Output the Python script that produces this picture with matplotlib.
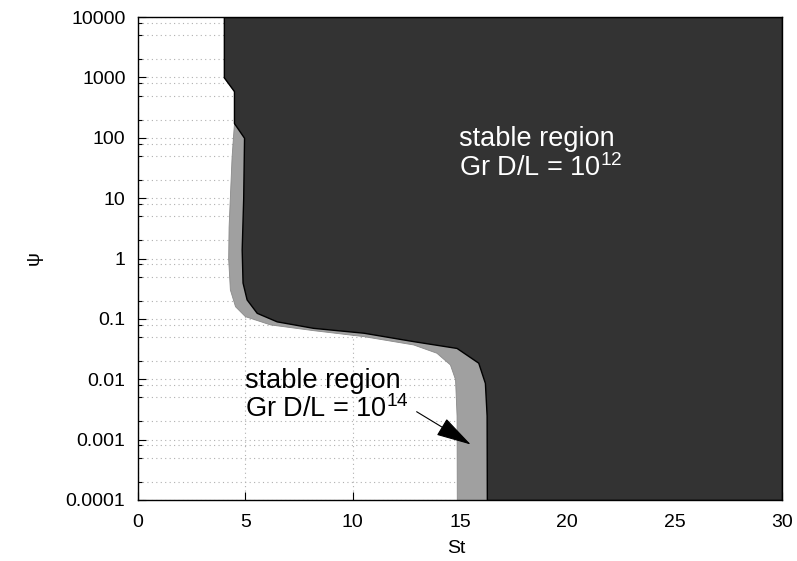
import matplotlib as mpl
mpl.rcParams['font.family'] = ['Liberation Sans', 'DejaVu Sans']
mpl.rcParams['mathtext.fontset'] = 'custom'
mpl.rcParams['mathtext.rm'] = 'Liberation Sans'
mpl.rcParams['mathtext.it'] = 'Liberation Sans'
import matplotlib.pyplot as plt
from matplotlib.ticker import LogLocator, NullFormatter, FixedLocator

# stability boundary for Gr D/L = 1e12 (dark region, stable to the right)
psi_12 = [1e4, 1000, 593, 175, 100, 10, 1.41, 0.4, 0.21, 0.126, 0.091, 0.071,
          0.059, 0.0428, 0.033, 0.0188, 0.0087, 0.0025, 1e-4]
st_12 = [4.0, 4.0, 4.47, 4.47, 4.94, 4.9, 4.83, 4.87, 5.06, 5.53, 6.46, 8.16,
         10.5, 12.82, 14.84, 15.85, 16.16, 16.24, 16.25]

# stability boundary for Gr D/L = 1e14 (light region)
psi_14 = [1e4, 1000, 593, 175, 49, 3.35, 1.0, 0.307, 0.162, 0.111, 0.081, 0.065,
          0.0518, 0.0377, 0.0275, 0.0176, 0.01, 0.0025, 1e-4]
st_14 = [4.0, 4.0, 4.47, 4.47, 4.36, 4.22, 4.2, 4.28, 4.52, 4.98, 6.15, 8.16,
         10.5, 12.82, 13.9, 14.53, 14.77, 14.84, 14.85]

x_ticks = [0, 5, 10, 15, 20, 25, 30]
y_ticks = [1e-4, 1e-3, 1e-2, 1e-1, 1, 10, 100, 1000, 1e4]
y_labels = ['0.0001', '0.001', '0.01', '0.1', '1', '10', '100', '1000', '10000']

fig = plt.figure(figsize=(7.97, 5.61), dpi=100)
ax = fig.add_axes([138/797, 1-500/561, 644/797, 483/561])
ax.set_yscale('log')
ax.set_xlim(0, 30)
ax.set_ylim(1e-4, 1e4)

ax.set_axisbelow(True)
ax.fill_betweenx(psi_14, st_14, 30, facecolor='#a0a0a0', edgecolor='#8a8a8a', lw=0.6, zorder=1)
ax.fill_betweenx(psi_12, st_12, 30, facecolor='#333333', edgecolor='black', lw=1.0, zorder=1.5)

ax.set_xticks(x_ticks)
ax.set_xticklabels([str(v) for v in x_ticks])
ax.yaxis.set_major_locator(FixedLocator(y_ticks))
ax.set_yticklabels(y_labels)
ax.yaxis.set_minor_locator(LogLocator(base=10, subs=[2, 5, 8]))
ax.yaxis.set_minor_formatter(NullFormatter())
ax.tick_params(which='major', direction='in', length=6, width=0.8, labelsize=14, pad=9)
ax.tick_params(which='minor', direction='in', length=3, width=0.8)
ax.tick_params(axis='x', pad=10)
ax.grid(True, which='both', axis='y', ls=(0, (1, 3)), color='#b0b0b0', lw=0.8)
ax.grid(True, which='major', axis='x', ls=(0, (1, 3)), color='#b0b0b0', lw=0.8)
for s in ax.spines.values():
    s.set_linewidth(1.0)
    s.set_zorder(3)

ax.set_xlabel('St', fontsize=14)
ax.xaxis.set_label_coords(0.494, -0.082)
ax.set_ylabel('ψ', fontsize=14)
ax.yaxis.set_label_coords(-0.148, 0.5)

ax.text(14.95, 71.8, 'stable region', color='white', fontsize=19.5, va='baseline')
ax.text(14.95, 23.5, 'Gr D/L = 10$^{12}$', color='white', fontsize=19.5, va='baseline')
ax.text(4.98, 0.0071, 'stable region', color='black', fontsize=19.5, va='baseline', zorder=4)
ax.text(4.98, 0.00238, 'Gr D/L = 10$^{14}$', color='black', fontsize=19.5, va='baseline', zorder=4)
ax.annotate('', xy=(15.5, 0.00083), xytext=(12.98, 0.0029),
            arrowprops=dict(arrowstyle='-|>,head_length=0.8,head_width=0.22',
                            mutation_scale=28, lw=0.8, color='black',
                            shrinkA=0, shrinkB=0), zorder=4)

fig.savefig('out.png', dpi=100)
